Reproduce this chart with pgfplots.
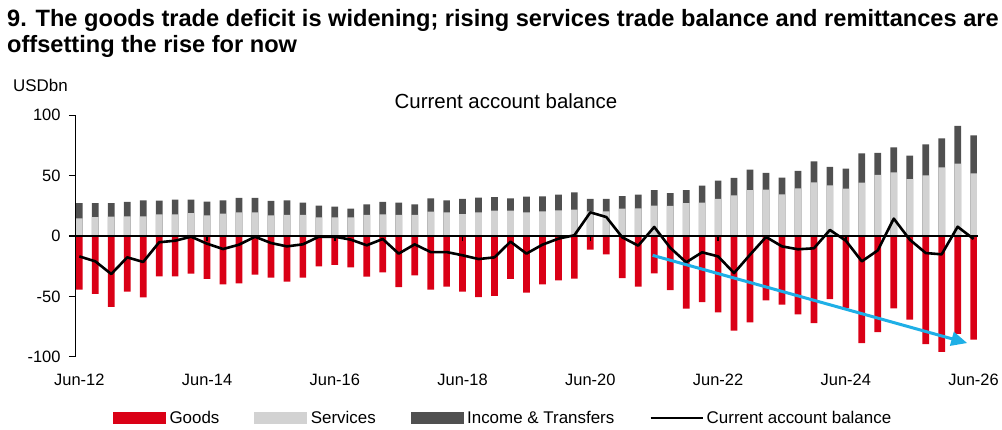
\documentclass[border=0pt]{standalone}
\usepackage{pgfplots}
\pgfplotsset{compat=1.18}
\usepackage{pgfplotstable}
\usetikzlibrary{arrows.meta}
\usepackage{fontspec}
\setmainfont{Liberation Sans}
\definecolor{goodsred}{RGB}{218,0,22}
\definecolor{servgray}{RGB}{210,210,210}
\definecolor{incgray}{RGB}{80,80,80}
\definecolor{arrowblue}{RGB}{30,175,230}

\pgfplotstableread{
idx goods services income ca
0 -44.5 14.6 12.7 -16.9
1 -48.0 15.7 11.6 -21.0
2 -58.8 16.0 11.3 -31.5
3 -46.1 16.3 11.9 -17.7
4 -50.8 16.3 13.3 -21.5
5 -33.4 18.0 11.3 -5.2
6 -33.4 18.0 12.1 -3.9
7 -31.2 19.0 11.1 -0.6
8 -35.6 17.1 11.4 -6.4
9 -40.0 18.5 11.1 -10.8
10 -39.2 19.6 11.9 -7.2
11 -32.0 19.6 11.9 -0.6
12 -34.5 17.1 11.9 -5.8
13 -37.8 17.4 12.2 -8.6
14 -34.5 17.4 10.2 -6.9
15 -25.1 15.5 9.6 -0.6
16 -24.0 15.5 8.8 -0.6
17 -26.0 15.5 7.2 -3.0
18 -33.7 17.4 8.8 -7.7
19 -30.1 18.0 10.2 -2.5
20 -42.3 17.4 10.2 -14.6
21 -32.6 17.4 8.8 -6.9
22 -44.5 20.2 11.0 -13.3
23 -42.0 19.6 10.0 -13.3
24 -46.1 18.2 12.5 -16.0
25 -50.6 19.6 12.2 -19.1
26 -49.7 21.0 11.3 -17.7
27 -35.6 21.0 10.2 -4.7
28 -47.0 19.6 13.0 -14.6
29 -40.0 20.4 12.5 -7.2
30 -36.7 21.3 13.0 -2.2
31 -35.4 21.8 14.4 0.6
32 -11.3 20.4 10.3 19.6
33 -15.2 20.4 10.3 15.7
34 -34.8 22.7 10.4 -1.1
35 -42.0 22.9 11.4 -8.0
36 -30.9 25.1 13.0 7.5
37 -44.8 24.9 10.7 -9.7
38 -60.2 27.3 10.8 -21.8
39 -54.7 27.6 14.1 -13.5
40 -63.3 30.7 15.2 -16.9
41 -78.5 33.7 14.4 -30.7
42 -71.5 38.1 16.9 -15.5
43 -53.3 38.4 13.8 -0.8
44 -56.9 34.5 13.8 -8.6
45 -64.9 39.5 14.4 -11.0
46 -72.1 44.5 17.4 -10.2
47 -52.2 42.0 15.2 5.0
48 -59.7 39.2 16.6 -3.9
49 -88.7 44.2 24.3 -21.0
50 -79.6 50.6 18.2 -11.9
51 -59.9 52.8 20.7 14.4
52 -69.3 47.2 19.4 -3.0
53 -89.5 50.3 25.7 -14.1
54 -96.1 56.9 24.0 -15.2
55 -81.0 59.9 31.3 7.7
56 -85.9 51.9 31.5 -2.5
}\data

\begin{document}
\begin{tikzpicture}
\useasboundingbox (0,0) rectangle (1002bp,430bp);
\node[anchor=base west, inner sep=0pt, font=\fontsize{23.7}{28}\selectfont\bfseries] at (7bp,403.5bp) {9. The goods trade deficit is widening; rising services trade balance and remittances are};
\node[anchor=base west, inner sep=0pt, font=\fontsize{23.7}{28}\selectfont\bfseries] at (7bp,377.5bp) {offsetting the rise for now};
\node[anchor=base west, inner sep=0pt, font=\fontsize{17}{20}\selectfont] at (13bp,338bp) {USDbn};
\node[anchor=base, inner sep=0pt, font=\fontsize{20.5}{24}\selectfont] at (506bp,321bp) {Current account balance};
\begin{axis}[
  scale only axis,
  width=903.4bp, height=241.4bp,
  at={(75bp,73.3bp)}, anchor=south west,
  xmin=-0.27, xmax=56.3, ymin=-100, ymax=100,
  axis line style={draw=none},
  xtick={0,8,...,56},
  xticklabels={Jun-12,Jun-14,Jun-16,Jun-18,Jun-20,Jun-22,Jun-24,Jun-26},
  xtick style={draw=none},
  ytick={-100,-50,0,50,100},
  yticklabels={-100,-50,0,50,100},
  ytick pos=left,
  tick align=outside,
  major tick length=6bp,
  ytick style={black, line width=1.5bp},
  ticklabel style={font=\fontsize{16.5}{19}\selectfont},
  yticklabel style={xshift=-5bp},
  xticklabel style={yshift=-8bp},
  legend columns=4,
  legend cell align=left,
  legend style={draw=none, fill=none, inner sep=0pt,
    at={(0.042,-0.254)}, anchor=west,
    font=\fontsize{17}{20}\selectfont,
    /tikz/every even column/.append style={column sep=33bp}},
]
\addlegendimage{legend image code/.code={\fill[goodsred] (0bp,-5.5bp) rectangle (52bp,5.5bp); \path (54bp,0bp);}}
\addlegendentry{Goods}
\addlegendimage{legend image code/.code={\fill[servgray] (0bp,-5.5bp) rectangle (52bp,5.5bp); \path (54bp,0bp);}}
\addlegendentry{Services}
\addlegendimage{legend image code/.code={\fill[incgray] (0bp,-5.5bp) rectangle (52bp,5.5bp); \path (54bp,0bp);}}
\addlegendentry{Income \& Transfers}
\addlegendimage{legend image code/.code={\draw[black, line width=2.5bp] (0bp,0bp) -- (52bp,0bp); \path (54bp,0bp);}}
\addlegendentry{Current account balance}

\addplot[ybar, bar shift=0pt, bar width=0.42, fill=incgray, draw=none, forget plot]
  table[x=idx, y expr=\thisrow{services}+\thisrow{income}] {\data};
\addplot[ybar, bar shift=0pt, bar width=0.42, fill=servgray, draw=none, forget plot]
  table[x=idx, y=services] {\data};
\addplot[ybar, bar shift=0pt, bar width=0.42, fill=goodsred, draw=none, forget plot]
  table[x=idx, y=goods] {\data};
\draw[black, line width=2bp] (axis cs:-0.27,0) -- (axis cs:56.3,0);
\draw[black, line width=2bp] (axis cs:-0.27,-100) -- (axis cs:-0.27,100);
\pgfplotsinvokeforeach{8,16,24,32,40,48}{\draw[black, line width=1.5bp] (axis cs:#1,0) -- ++(0bp,-5bp);}
\addplot[black, line width=2.6bp, line join=round, forget plot]
  table[x=idx, y=ca] {\data};
\draw[arrowblue, line width=3bp, -{Triangle[length=16bp,width=14bp]}] (axis cs:35.9,-16) -- (axis cs:55.6,-88.7);
\end{axis}
\end{tikzpicture}
\end{document}
